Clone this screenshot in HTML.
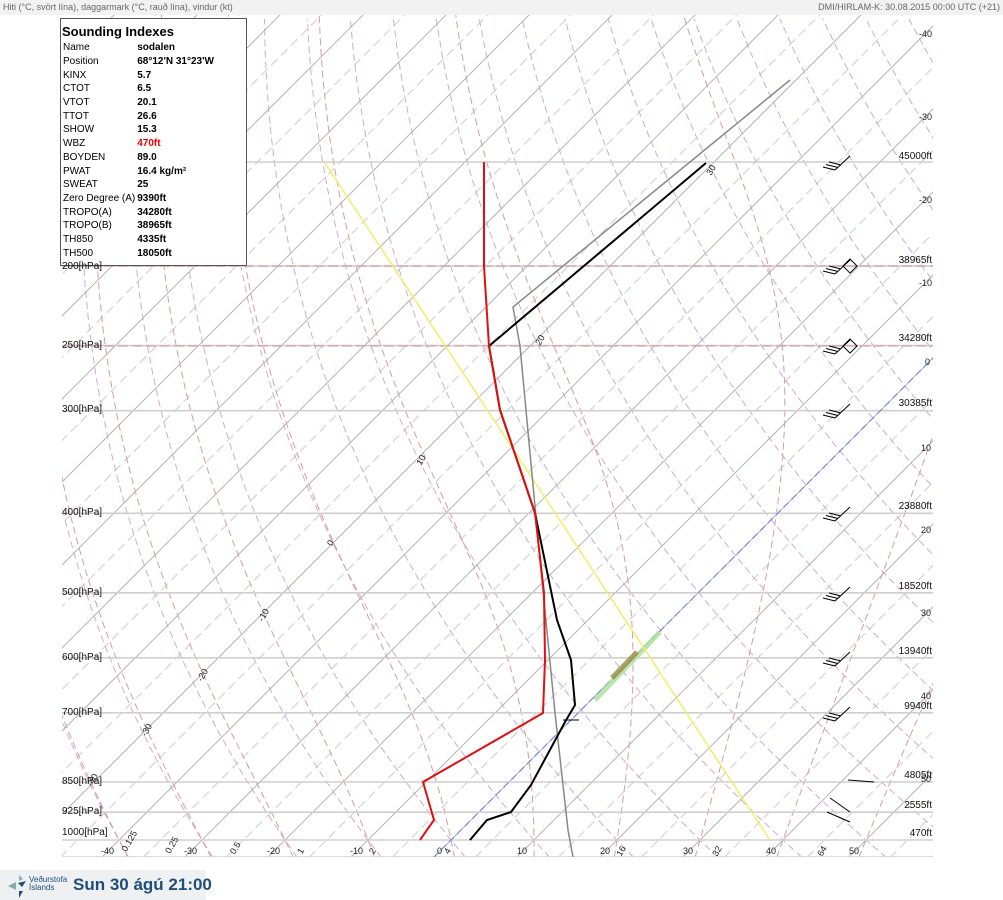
<!DOCTYPE html>
<html><head><meta charset="utf-8"><style>
body{margin:0;width:1003px;height:900px;background:#fff;font-family:"Liberation Sans",sans-serif;position:relative;overflow:hidden}
#hdr{position:absolute;left:0;top:0;width:1003px;height:15px;background:#f2f2f2;font-size:9px;color:#666;line-height:15px}
#hdr .l{position:absolute;left:3px}#hdr .r{position:absolute;right:3px}
svg{position:absolute;left:0;top:0}
#box{position:absolute;left:60px;top:18px;width:185px;height:246px;background:#fff;border:1px solid #555;font-size:10px;color:#000}
#box .t{font-weight:bold;font-size:13px;margin:5px 0 2px 1px}
#box table{border-collapse:collapse;margin-left:2px}
#box td{padding:0;height:13.7px;white-space:nowrap}
#box td.v{font-weight:bold;padding-left:2px}
#ftr{position:absolute;left:0;top:870px;width:206px;height:30px;background:#eef0f2}
#ftr .d{position:absolute;left:73px;top:5px;font-size:17px;font-weight:bold;color:#1f4e79;white-space:nowrap}
#ftr .lg{position:absolute;left:29px;top:6px;font-size:8px;line-height:8px;color:#1f4e79;white-space:nowrap}
.pl{position:absolute;font-size:10px;color:#111}
.rl{position:absolute;font-size:10px;color:#111;text-align:right;width:80px;left:852px}
.bl{position:absolute;font-size:9px;color:#222}
.rt{position:absolute;font-size:9px;color:#222;transform:rotate(-60deg)}
</style></head><body>
<div id="hdr"><span class="l">Hiti (°C, svört lína), daggarmark (°C, rauð lína), vindur (kt)</span><span class="r">DMI/HIRLAM-K: 30.08.2015 00:00 UTC (+21)</span></div>
<svg id="s" width="1003" height="900"></svg>
<div id="box"><div class="t">Sounding Indexes</div><table>
<tr><td>Name</td><td class="v">sodalen</td></tr>
<tr><td>Position</td><td class="v">68°12'N 31°23'W</td></tr>
<tr><td>KINX</td><td class="v">5.7</td></tr>
<tr><td>CTOT</td><td class="v">6.5</td></tr>
<tr><td>VTOT</td><td class="v">20.1</td></tr>
<tr><td>TTOT</td><td class="v">26.6</td></tr>
<tr><td>SHOW</td><td class="v">15.3</td></tr>
<tr><td>WBZ</td><td class="v" style="color:#e00">470ft</td></tr>
<tr><td>BOYDEN</td><td class="v">89.0</td></tr>
<tr><td>PWAT</td><td class="v">16.4 kg/m²</td></tr>
<tr><td>SWEAT</td><td class="v">25</td></tr>
<tr><td>Zero Degree (A)</td><td class="v">9390ft</td></tr>
<tr><td>TROPO(A)</td><td class="v">34280ft</td></tr>
<tr><td>TROPO(B)</td><td class="v">38965ft</td></tr>
<tr><td>TH850</td><td class="v">4335ft</td></tr>
<tr><td>TH500</td><td class="v">18050ft</td></tr>
</table></div>
<div class="pl" style="left:62px;top:261px">200[hPa]</div>
<div class="pl" style="left:62px;top:340px">250[hPa]</div>
<div class="pl" style="left:62px;top:404px">300[hPa]</div>
<div class="pl" style="left:62px;top:507px">400[hPa]</div>
<div class="pl" style="left:62px;top:587px">500[hPa]</div>
<div class="pl" style="left:62px;top:652px">600[hPa]</div>
<div class="pl" style="left:62px;top:707px">700[hPa]</div>
<div class="pl" style="left:62px;top:776px">850[hPa]</div>
<div class="pl" style="left:62px;top:806px">925[hPa]</div>
<div class="pl" style="left:62px;top:827px">1000[hPa]</div>
<div class="rl" style="top:151px">45000ft</div>
<div class="rl" style="top:255px">38965ft</div>
<div class="rl" style="top:333px">34280ft</div>
<div class="rl" style="top:398px">30385ft</div>
<div class="rl" style="top:501px">23880ft</div>
<div class="rl" style="top:581px">18520ft</div>
<div class="rl" style="top:646px">13940ft</div>
<div class="rl" style="top:701px">9940ft</div>
<div class="rl" style="top:770px">4805ft</div>
<div class="rl" style="top:800px">2555ft</div>
<div class="rl" style="top:828px">470ft</div>
<div class="bl" style="left:919px;top:29px">-40</div>
<div class="bl" style="left:919px;top:112px">-30</div>
<div class="bl" style="left:919px;top:195px">-20</div>
<div class="bl" style="left:919px;top:278px">-10</div>
<div class="bl" style="left:925px;top:357px">0</div>
<div class="bl" style="left:921px;top:443px">10</div>
<div class="bl" style="left:921px;top:525px">20</div>
<div class="bl" style="left:921px;top:608px">30</div>
<div class="bl" style="left:921px;top:691px">40</div>
<div class="bl" style="left:921px;top:774px">50</div>
<div class="bl" style="left:101px;top:846px">-40</div>
<div class="bl" style="left:184px;top:846px">-30</div>
<div class="bl" style="left:267px;top:846px">-20</div>
<div class="bl" style="left:350px;top:846px">-10</div>
<div class="bl" style="left:437px;top:846px">0</div>
<div class="bl" style="left:517px;top:846px">10</div>
<div class="bl" style="left:600px;top:846px">20</div>
<div class="bl" style="left:683px;top:846px">30</div>
<div class="bl" style="left:766px;top:846px">40</div>
<div class="bl" style="left:849px;top:846px">50</div>
<div class="rt" style="left:118px;top:836px">0.125</div>
<div class="rt" style="left:163px;top:840px">0.25</div>
<div class="rt" style="left:229px;top:843px">0.5</div>
<div class="rt" style="left:298px;top:846px">1</div>
<div class="rt" style="left:370px;top:846px">2</div>
<div class="rt" style="left:445px;top:846px">4</div>
<div class="rt" style="left:616px;top:846px">16</div>
<div class="rt" style="left:712px;top:846px">32</div>
<div class="rt" style="left:817px;top:846px">64</div>
<div class="rt" style="left:140px;top:725px">-30</div>
<div class="rt" style="left:196px;top:670px">-20</div>
<div class="rt" style="left:257px;top:610px">-10</div>
<div class="rt" style="left:328px;top:538px">0</div>
<div class="rt" style="left:416px;top:455px">10</div>
<div class="rt" style="left:535px;top:335px">20</div>
<div class="rt" style="left:706px;top:165px">30</div>
<div class="rt" style="left:86px;top:775px">-40</div>
<div id="ftr"><svg width="26" height="26" style="left:4px;top:3px"><polygon points="4,13 12,9 12,17" fill="#8aa"/><polygon points="14,10 22,8 18,14" fill="#1f4e79"/><polygon points="15,2 19,6 15,8" fill="#9ab"/><polygon points="15,18 19,18 15,25" fill="#1f4e79"/></svg><div class="lg">Veðurstofa<br>Íslands</div><div class="d">Sun 30 ágú 21:00</div></div>
<script>
var S=document.getElementById('s'),NS='http://www.w3.org/2000/svg';
function Y(p){return 840+356.6*Math.log(p/1000);}
function X(T,p){return 451+8.3*T+(840-Y(p));}
function el(n,a,par){var e=document.createElementNS(NS,n);for(var k in a)e.setAttribute(k,a[k]);(par||g).appendChild(e);return e;}
var defs=el('defs',{},S);var cp=el('clipPath',{id:'c'},defs);el('rect',{x:62,y:15,width:871,height:842},cp);
var g=el('g',{'clip-path':'url(#c)'},S);
function line(pts,st){el('polyline',Object.assign({points:pts.map(function(q){return q[0].toFixed(1)+','+q[1].toFixed(1)}).join(' '),fill:'none'},st));}
function es(T){return 6.112*Math.exp(17.67*T/(T+243.5));}
for(var t=-135;t<=65;t+=10){line([[X(t,1050),Y(1050)],[X(t,95),Y(95)]],{stroke:'#d4d4d4','stroke-width':1.2,'stroke-dasharray':'9,5'});}
for(var th=-60;th<=250;th+=10){var pts=[];for(var p=1050;p>=95;p-=10){var T=(th+273.15)*Math.pow(p/1000,0.286)-273.15;pts.push([X(T,p),Y(p)]);}line(pts,{stroke:'#d0a8dc','stroke-width':1,'stroke-dasharray':'7,4'});}
function gm(T,p){var Tk=T+273.15,r=0.622*es(T)/(p-es(T)),L=2.5e6;return (287*Tk+L*r)/(1004+L*L*r*0.622/(287*Tk*Tk))/p;}
for(var tw=-40;tw<=50;tw+=10){var pts=[],T=tw,p;for(p=1000;p<=1050;p+=5){pts.unshift([X(T,p),Y(p)]);T+=gm(T,p)*5;}T=tw;for(p=1000;p>=95;p-=5){pts.push([X(T,p),Y(p)]);T-=gm(T,p)*5;}line(pts,{stroke:'#dd9999','stroke-width':1,'stroke-dasharray':'7,4'});}
for(var t=-140;t<=60;t+=10){line([[X(t,1050),Y(1050)],[X(t,95),Y(95)]],{stroke:'#b4b4b4','stroke-width':1});}
[1000,925,850,700,600,500,400,300,250,200].forEach(function(p){line([[62,Y(p)],[933,Y(p)]],{stroke:'#cfcfcf','stroke-width':1.6});});
line([[245,162],[933,162]],{stroke:'#cfcfcf','stroke-width':1.6});
line([[62,857],[933,857]],{stroke:'#cfcfcf','stroke-width':1.6});
[266,346].forEach(function(y){line([[62,y],[933,y]],{stroke:'#d88','stroke-width':1,'stroke-dasharray':'10,4'});});
line([[X(0,1050),Y(1050)],[X(0,95),Y(95)]],{stroke:'#6677ee','stroke-width':1,'stroke-dasharray':'7,4'});
line([[595,700],[660,632]],{stroke:'#aade99','stroke-width':5,'stroke-opacity':0.8});
line([[612,678],[637,652]],{stroke:'#998844','stroke-width':5,'stroke-opacity':0.8});
line([[770,840],[325,163]],{stroke:'#f2ee66','stroke-width':1.5});
line([[573,857],[568,830],[555,713],[540,560],[520,346],[513,307],[790,80]],{stroke:'#888','stroke-width':1.5});
line([[470,840],[487,820],[511,812],[531,785],[565,722],[575,705],[571,660],[557,620],[535,513],[500,410],[489,346],[706,163]],{stroke:'#000','stroke-width':2});
line([[563,720],[579,720]],{stroke:'#000','stroke-width':1});
line([[420,840],[434,820],[423,782],[543,713],[545,660],[544,593],[535,513],[500,410],[489,346],[484,266],[484,162]],{stroke:'#e01010','stroke-width':2});
[[162],[266],[346],[410],[513],[593],[658],[713]].forEach(function(a){var y=a[0]+8;line([[850,y-14],[835,y]],{stroke:'#000','stroke-width':1});for(var i=0;i<3;i++){line([[835+i*3,y-i*2.5],[823+i*3,y-3-i*2.5]],{stroke:'#000','stroke-width':1});}});
line([[848,780],[874,782]],{stroke:'#000','stroke-width':1});
line([[830,798],[850,812]],{stroke:'#000','stroke-width':1});
line([[827,812],[850,822]],{stroke:'#000','stroke-width':1});
[[850,266],[850,346]].forEach(function(c){el('rect',{x:c[0]-5,y:c[1]-5,width:10,height:10,fill:'none',stroke:'#000',transform:'rotate(45 '+c[0]+' '+c[1]+')'});});
</script>
</body></html>
